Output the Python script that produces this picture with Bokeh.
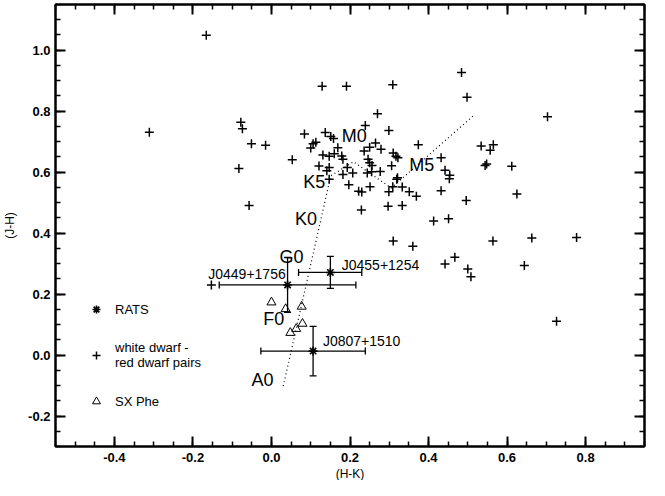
from bokeh.plotting import figure
from bokeh.models import (ColumnDataSource, LinearAxis, FixedTicker, Range1d,
                          Whisker, TeeHead, Legend, LegendItem, Title,
                          CustomLabelingPolicy)
from bokeh.core.properties import value
from bokeh.embed import file_html
from bokeh.resources import INLINE

# ---- data ----
wd_hk = [-0.166, -0.311, -0.078, -0.074, -0.051, -0.015, -0.083, -0.057, -0.153,
         0.053, 0.084, 0.129, 0.191, 0.309, 0.484, 0.498, 0.703, 0.270, 0.299, 0.239,
         0.113, 0.106, 0.100, 0.137, 0.151, 0.158, 0.169,
         0.131, 0.147, 0.160, 0.179, 0.182,
         0.121, 0.147, 0.141, 0.147,
         0.193, 0.207, 0.182, 0.197,
         0.222, 0.230, 0.251, 0.229,
         0.236, 0.250, 0.265, 0.279,
         0.246, 0.250, 0.256,
         0.244, 0.255, 0.277,
         0.306, 0.310, 0.317, 0.322,
         0.321, 0.319, 0.309, 0.299, 0.333, 0.351, 0.369,
         0.297, 0.333, 0.310, 0.360,
         0.374, 0.432, 0.442, 0.454, 0.453, 0.432, 0.496,
         0.413, 0.451, 0.467, 0.442, 0.500, 0.508,
         0.534, 0.557, 0.565, 0.544, 0.548, 0.612, 0.625,
         0.564, 0.663, 0.777, 0.644, 0.726]
wd_jh = [1.049, 0.731, 0.764, 0.742, 0.693, 0.688, 0.612, 0.491, 0.230,
         0.641, 0.725, 0.882, 0.882, 0.887, 0.927, 0.846, 0.782, 0.792, 0.737, 0.753,
         0.698, 0.693, 0.679, 0.730, 0.717, 0.710, 0.680,
         0.656, 0.652, 0.660, 0.653, 0.642,
         0.620, 0.615, 0.605, 0.577,
         0.615, 0.597, 0.592, 0.559,
         0.537, 0.535, 0.552, 0.476,
         0.669, 0.682, 0.696, 0.675,
         0.642, 0.631, 0.622,
         0.597, 0.601, 0.602,
         0.621, 0.663, 0.652, 0.647,
         0.582, 0.577, 0.552, 0.536, 0.551, 0.536, 0.521,
         0.488, 0.491, 0.374, 0.357,
         0.690, 0.647, 0.606, 0.590, 0.578, 0.539, 0.507,
         0.440, 0.447, 0.321, 0.299, 0.282, 0.257,
         0.686, 0.672, 0.690, 0.622, 0.627, 0.619, 0.528,
         0.374, 0.384, 0.386, 0.294, 0.111]

rats_name = ["J0449+1756", "J0455+1254", "J0807+1510"]
rats_hk = [0.041, 0.150, 0.106]
rats_jh = [0.230, 0.271, 0.013]
rats_hk_lo = [-0.133, 0.069, -0.027]
rats_hk_hi = [0.215, 0.230, 0.239]
rats_jh_lo = [0.140, 0.219, -0.068]
rats_jh_hi = [0.320, 0.324, 0.094]
rats_name_hk = [-0.161, 0.179, 0.131]
rats_name_jh = [0.266, 0.294, 0.046]

sx_hk = [0.000, 0.036, 0.077, 0.079, 0.063, 0.048]
sx_jh = [0.173, 0.151, 0.159, 0.103, 0.086, 0.073]

seq_hk = [0.030, 0.151, 0.209, 0.305, 0.516]
seq_jh = [-0.102, 0.588, 0.634, 0.548, 0.787]
spt_label = ["A0", "F0", "G0", "K0", "K5", "M0", "M5"]
spt_hk = [-0.023, 0.006, 0.051, 0.088, 0.109, 0.211, 0.383]
spt_jh = [-0.081, 0.119, 0.321, 0.447, 0.569, 0.719, 0.622]

hk_ticks = [-0.4, -0.2, 0.0, 0.2, 0.4, 0.6, 0.8]
hk_tick_labels = ["-0.4", "-0.2", "0.0", "0.2", "0.4", "0.6", "0.8"]
jh_ticks = [-0.2, 0.0, 0.2, 0.4, 0.6, 0.8, 1.0]
jh_tick_labels = ["-0.2", "0.0", "0.2", "0.4", "0.6", "0.8", "1.0"]
hk_minor = [round(-0.55 + 0.05 * i, 2) for i in range(31)]
jh_minor = [round(-0.30 + 0.05 * i, 2) for i in range(30)]
x_title = "(H-K)"
y_title = "(J-H)"

FONT = "Liberation Sans"

p = figure(width=649, height=480, x_range=Range1d(-0.55, 0.95),
           y_range=Range1d(-0.3, 1.15), output_backend="svg",
           toolbar_location=None, min_border_left=50, min_border_right=1,
           min_border_top=1, min_border_bottom=0,
           y_axis_label=y_title)
p.grid.visible = False
p.outline_line_color = "black"
p.outline_line_width = 2
p.background_fill_color = "white"
p.border_fill_color = "white"

xt = FixedTicker(ticks=hk_ticks, minor_ticks=hk_minor)
yt = FixedTicker(ticks=jh_ticks, minor_ticks=jh_minor)

no_labels = CustomLabelingPolicy(
    code="const all = [...indices]; for (const i of all) { indices.unset(i) } return indices")


def style_axis(ax, labels=True):
    ax.axis_line_width = 2
    ax.axis_line_color = "black"
    ax.major_tick_in = 10
    ax.major_tick_out = 0
    ax.minor_tick_in = 5
    ax.minor_tick_out = 0
    ax.major_tick_line_width = 2
    ax.minor_tick_line_width = 1.5
    ax.major_tick_line_color = "black"
    ax.minor_tick_line_color = "black"
    if labels:
        ax.major_label_text_font = FONT
        ax.major_label_text_font_style = "bold"
        ax.major_label_text_font_size = "13px"
        ax.major_label_text_color = "black"
        ax.axis_label_text_font = FONT
        ax.axis_label_text_font_style = "normal"
        ax.axis_label_text_font_size = "12px"
        ax.axis_label_text_color = "black"
    else:
        ax.major_label_policy = no_labels
        ax.major_label_text_font_size = "1px"
        ax.major_label_standoff = 0


xa = p.xaxis[0]
xa.ticker = xt
xa.major_label_overrides = {t: l for t, l in zip(hk_ticks, hk_tick_labels)}
style_axis(xa)
xa.major_label_standoff = 6

ya = p.yaxis[0]
ya.ticker = yt
ya.major_label_overrides = {t: l for t, l in zip(jh_ticks, jh_tick_labels)}
style_axis(ya)
ya.major_label_standoff = 5
ya.axis_label_standoff = 8

top = LinearAxis(ticker=xt)
style_axis(top, labels=False)
p.add_layout(top, "above")
right = LinearAxis(ticker=yt)
style_axis(right, labels=False)
p.add_layout(right, "right")

# x-axis title placed just under the tick labels
p.add_layout(Title(text=x_title, align="center", standoff=0, offset=0,
                   text_font=FONT, text_font_size="12px",
                   text_font_style="normal", text_color="black"), "below")

# spectral sequence
p.line(seq_hk, seq_jh, line_color="black", line_width=1.2, line_dash="1 3")

# white dwarf - red dwarf pairs
r_wd = p.scatter(wd_hk, wd_jh, marker="cross", size=9, line_color="black",
                 line_width=1.5)

# RATS with error bars
rs = ColumnDataSource(dict(hk=rats_hk, jh=rats_jh, hk_lo=rats_hk_lo,
                           hk_hi=rats_hk_hi, jh_lo=rats_jh_lo, jh_hi=rats_jh_hi))
for dim, base, lo, hi in [("width", "jh", "hk_lo", "hk_hi"),
                          ("height", "hk", "jh_lo", "jh_hi")]:
    w = Whisker(source=rs, base=base, lower=lo, upper=hi, dimension=dim,
                line_color="black", line_width=1.3,
                upper_head=TeeHead(size=7, line_color="black", line_width=1.3),
                lower_head=TeeHead(size=7, line_color="black", line_width=1.3))
    p.add_layout(w)
r_rats = p.scatter("hk", "jh", source=rs, marker="asterisk", size=9,
                   line_color="black", line_width=1.6)

# SX Phe
r_sx = p.scatter(sx_hk, sx_jh, marker="triangle", size=9, fill_color=None,
                 line_color="black", line_width=1.0)

# labels
p.text(rats_name_hk, rats_name_jh, text=rats_name, text_align="left",
       text_baseline="middle", text_font=value(FONT), text_font_size="14px",
       text_color="black")
p.text(spt_hk, spt_jh, text=spt_label, text_align="center",
       text_baseline="middle", text_font=value(FONT), text_font_size="18px",
       text_color="black")

legend = Legend(items=[LegendItem(label="RATS", renderers=[r_rats]),
                       LegendItem(label="white dwarf -\nred dwarf pairs", renderers=[r_wd]),
                       LegendItem(label="SX Phe", renderers=[r_sx])],
                location=(31, 35), margin=0, padding=0, spacing=21,
                glyph_width=20, glyph_height=20, label_standoff=9,
                label_text_font=FONT, label_text_font_size="13px",
                label_text_color="black", border_line_alpha=0,
                background_fill_alpha=0)
p.add_layout(legend)

open("out.html", "w").write(file_html(p, INLINE))
